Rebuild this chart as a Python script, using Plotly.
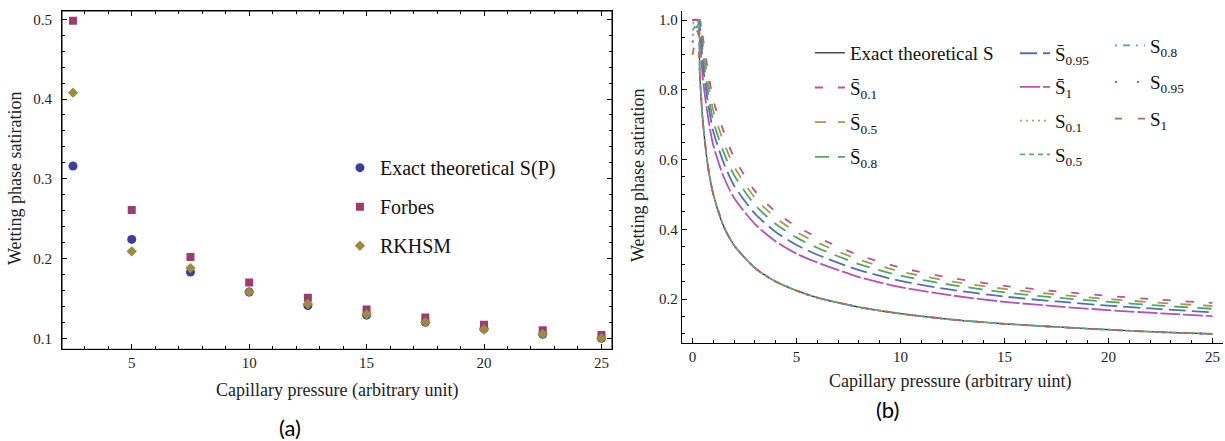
import plotly.graph_objects as go
from plotly.subplots import make_subplots

# ---- panel (a): discrete comparison ----
p_a = [2.5, 5, 7.5, 10, 12.5, 15, 17.5, 20, 22.5, 25]
s_exact_a = [0.316, 0.224, 0.183, 0.158, 0.141, 0.129, 0.120, 0.112, 0.105, 0.100]
s_forbes = [0.498, 0.261, 0.202, 0.170, 0.151, 0.136, 0.126, 0.117, 0.110, 0.104]
s_rkhsm = [0.408, 0.209, 0.188, 0.158, 0.143, 0.130, 0.120, 0.111, 0.105, 0.100]

# ---- panel (b): curves ----
p_b = [0, 0.25, 0.35, 0.5, 0.75, 1, 1.5, 2, 3, 4, 5, 6, 8, 10, 12.5, 15, 17.5, 20, 22.5, 25]
s_exact_b = [1.0, 1.0, 0.845, 0.707, 0.577, 0.5, 0.408, 0.354, 0.289, 0.25, 0.224, 0.204,
             0.177, 0.158, 0.141, 0.129, 0.12, 0.112, 0.105, 0.1]
sbar_01 = [1.0, 1.0, 1.0, 0.95, 0.85, 0.77, 0.68, 0.605, 0.51, 0.45, 0.408, 0.377,
           0.326, 0.29, 0.26, 0.238, 0.222, 0.209, 0.198, 0.189]
sbar_05 = [1.0, 1.0, 1.0, 0.93, 0.82, 0.74, 0.65, 0.58, 0.49, 0.433, 0.392, 0.362,
           0.313, 0.279, 0.25, 0.229, 0.213, 0.2, 0.189, 0.18]
sbar_08 = [1.0, 1.0, 1.0, 0.9, 0.79, 0.71, 0.62, 0.555, 0.47, 0.415, 0.376, 0.347,
           0.3, 0.267, 0.24, 0.219, 0.204, 0.192, 0.181, 0.172]
sbar_095 = [1.0, 1.0, 0.98, 0.87, 0.76, 0.68, 0.59, 0.525, 0.445, 0.392, 0.355, 0.327,
            0.283, 0.252, 0.226, 0.207, 0.193, 0.181, 0.171, 0.162]
sbar_1 = [1.0, 1.0, 0.95, 0.83, 0.72, 0.64, 0.55, 0.49, 0.415, 0.365, 0.33, 0.305,
          0.263, 0.234, 0.21, 0.192, 0.179, 0.168, 0.159, 0.151]
s_01 = [0.99, 1.0, 0.845, 0.707, 0.577, 0.5, 0.408, 0.354, 0.289, 0.25, 0.224, 0.204,
        0.177, 0.158, 0.141, 0.129, 0.12, 0.112, 0.105, 0.1]
s_05 = [0.97, 0.99, 0.845, 0.707, 0.577, 0.5, 0.408, 0.354, 0.289, 0.25, 0.224, 0.204,
        0.177, 0.158, 0.141, 0.129, 0.12, 0.112, 0.105, 0.1]
s_08 = [0.955, 0.985, 0.845, 0.707, 0.577, 0.5, 0.408, 0.354, 0.289, 0.25, 0.224, 0.204,
        0.177, 0.158, 0.141, 0.129, 0.12, 0.112, 0.105, 0.1]
s_095 = [0.935, 0.98, 0.845, 0.707, 0.577, 0.5, 0.408, 0.354, 0.289, 0.25, 0.224, 0.204,
         0.177, 0.158, 0.141, 0.129, 0.12, 0.112, 0.105, 0.1]
s_1 = [0.9, 0.97, 0.845, 0.707, 0.577, 0.5, 0.408, 0.354, 0.289, 0.25, 0.224, 0.204,
       0.177, 0.158, 0.141, 0.129, 0.12, 0.112, 0.105, 0.1]

SERIF = "Liberation Serif"
BAR = "S\u0304"

fig = make_subplots(rows=1, cols=2)

# panel (a) markers
fig.add_trace(go.Scatter(x=p_a, y=s_exact_a, mode="markers", name="Exact theoretical S(P)",
                         marker=dict(symbol="circle", size=9, color="#3d3d9c"),
                         legend="legend", legendgroup="a1"), row=1, col=1)
fig.add_trace(go.Scatter(x=p_a, y=s_forbes, mode="markers", name="Forbes",
                         marker=dict(symbol="square", size=8, color="#9c3d72"),
                         legend="legend", legendgroup="a2"), row=1, col=1)
fig.add_trace(go.Scatter(x=p_a, y=s_rkhsm, mode="markers", name="RKHSM",
                         marker=dict(symbol="diamond", size=8, color="#9c8c3d"),
                         legend="legend", legendgroup="a3"), row=1, col=1)

# panel (b) curves: (values, name, colour, dash, legend)
curves = [
    (s_exact_b, "Exact theoretical S", "#222222", "solid", "legend2"),
    (sbar_01, BAR + "<sub>0.1</sub>", "#b5559a", "8px,15px", "legend2"),
    (sbar_05, BAR + "<sub>0.5</sub>", "#a89850", "11px,12px", "legend2"),
    (sbar_08, BAR + "<sub>0.8</sub>", "#4fa862", "14px,9px", "legend2"),
    (sbar_095, BAR + "<sub>0.95</sub>", "#5070b5", "17px,6px", "legend3"),
    (sbar_1, BAR + "<sub>1</sub>", "#b452b8", "20px,3px", "legend3"),
    (s_01, "S<sub>0.1</sub>", "#b89878", "2px,4px", "legend3"),
    (s_05, "S<sub>0.5</sub>", "#5cb060", "5px,4px", "legend3"),
    (s_08, "S<sub>0.8</sub>", "#6a98b0", "2px,6px,7px,6px", "legend4"),
    (s_095, "S<sub>0.95</sub>", "#9a55b5", "2px,20px", "legend4"),
    (s_1, "S<sub>1</sub>", "#b86a58", "7px,16px", "legend4"),
]
for i, (vals, name, color, dash, leg) in enumerate(curves):
    fig.add_trace(go.Scatter(x=p_b, y=vals, mode="lines", name=name,
                             line=dict(color=color, width=1.2 if i == 0 else 1.8,
                                       dash=dash, shape="spline", smoothing=0.7),
                             legend=leg, legendgroup="b%d" % i), row=1, col=2)

tick_font = dict(family=SERIF, size=15, color="#222222")
axis_common = dict(showgrid=False, zeroline=False, showline=True, linecolor="black",
                   linewidth=1, ticks="inside", ticklen=5, tickcolor="black",
                   tickfont=tick_font)

# panel (a) has a full frame with ticks on all four sides
fig.update_xaxes(axis_common, row=1, col=1, domain=[0.0506, 0.4996], range=[2.03, 25.45],
                 tickvals=[5, 10, 15, 20, 25], mirror="ticks",
                 minor=dict(dtick=1, tick0=0, ticks="inside", ticklen=3, tickcolor="black"))
fig.update_yaxes(axis_common, row=1, col=1, domain=[0.2079, 0.9751], range=[0.0862, 0.5104],
                 tickvals=[0.1, 0.2, 0.3, 0.4, 0.5], tickformat=".1f", mirror="ticks",
                 ticklabelstandoff=6,
                 minor=dict(dtick=0.02, tick0=0, ticks="inside", ticklen=3, tickcolor="black"))
fig.update_xaxes(axis_common, row=1, col=2, domain=[0.5565, 0.9984], range=[-0.52, 25.51],
                 tickvals=[0, 5, 10, 15, 20, 25],
                 minor=dict(dtick=1, tick0=0, ticks="inside", ticklen=3, tickcolor="black"))
fig.update_yaxes(axis_common, row=1, col=2, domain=[0.2215, 0.9751], range=[0.073, 1.026],
                 tickvals=[0.2, 0.4, 0.6, 0.8, 1.0], tickformat=".1f",
                 minor=dict(dtick=0.05, tick0=0, ticks="inside", ticklen=3, tickcolor="black"))

# make sure the frame box of panel (a) is drawn
fig.add_shape(type="rect", xref="x domain", yref="y domain", x0=0, x1=1, y0=0, y1=1,
              line=dict(color="black", width=1), layer="above")

leg_common = dict(bgcolor="rgba(0,0,0,0)", xanchor="left", yanchor="top",
                  font=dict(family=SERIF, size=19, color="#111111"))
fig.update_layout(
    width=1225, height=441,
    margin=dict(l=0, r=0, t=0, b=0),
    paper_bgcolor="white", plot_bgcolor="white",
    legend=dict(leg_common, x=0.2775, y=0.664, tracegroupgap=10,
                font=dict(family=SERIF, size=20, color="#111111")),
    legend2=dict(leg_common, x=0.6612, y=0.923, tracegroupgap=7),
    legend3=dict(leg_common, x=0.8286, y=0.922, tracegroupgap=6),
    legend4=dict(leg_common, x=0.9061, y=0.940, tracegroupgap=9),
)

title_font = dict(family=SERIF, size=18, color="#222222")
ann = dict(xref="paper", yref="paper", showarrow=False, xanchor="center", yanchor="middle")
fig.add_annotation(ann, text="Capillary pressure (arbitrary unit)", x=0.2751, y=0.1134,
                   font=title_font)
fig.add_annotation(ann, text="Capillary pressure (arbitrary uint)", x=0.7755, y=0.1338,
                   font=title_font)
fig.add_annotation(ann, text="Wetting phase satiration", x=0.0122, y=0.5964, textangle=-90,
                   font=title_font)
fig.add_annotation(ann, text="Wetting phase satiration", x=0.5208, y=0.6032, textangle=-90,
                   font=title_font)
fig.add_annotation(ann, text="(a)", x=0.2367, y=0.0295,
                   font=dict(family="Lato", size=22, color="black"))
fig.add_annotation(ann, text="(b)", x=0.7241, y=0.0703,
                   font=dict(family="Lato", size=22, color="black"))

# page body has a default 8px margin; drop it so the figure fills the window
fig.write_html("out.html", config={"displayModeBar": False},
               post_script="document.body.style.margin='0';")
